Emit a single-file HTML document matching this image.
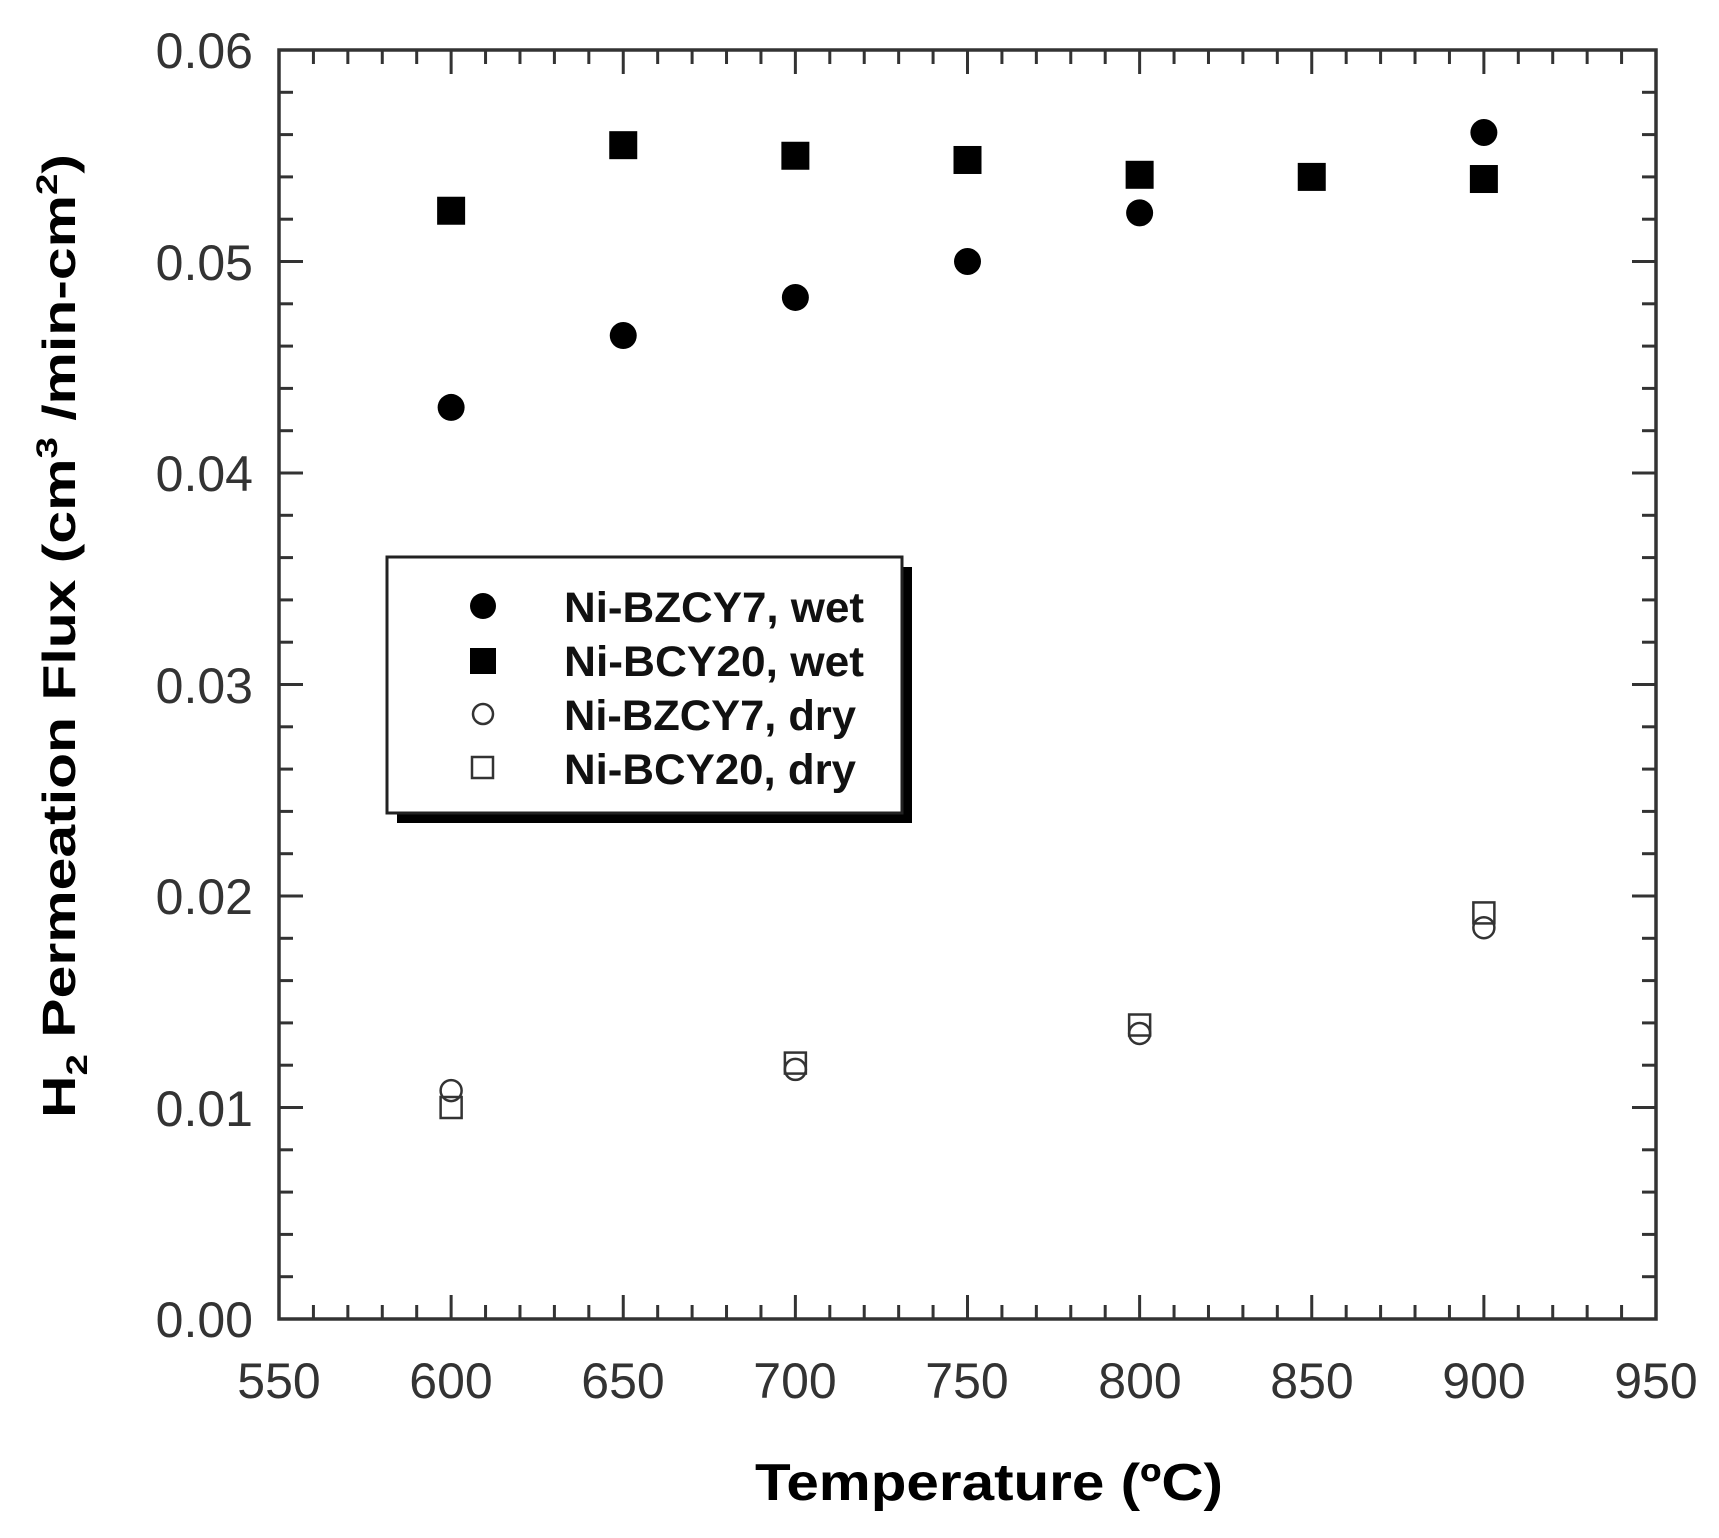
<!DOCTYPE html>
<html><head><meta charset="utf-8"><style>html,body{margin:0;padding:0;background:#fff}svg{display:block}</style></head>
<body>
<svg width="1719" height="1538" viewBox="0 0 1719 1538" xmlns="http://www.w3.org/2000/svg" font-family="'Liberation Sans', Arial, sans-serif">
<rect width="1719" height="1538" fill="#fff"/>
<g id="ticks" stroke="#333" stroke-width="3"></g>
<rect x="279" y="50" width="1377" height="1269" fill="none" stroke="#333" stroke-width="3.5"/>
<g font-size="50" fill="#333" text-anchor="end">
<text x="253" y="1337">0.00</text><text x="253" y="1126">0.01</text><text x="253" y="914">0.02</text>
<text x="253" y="703">0.03</text><text x="253" y="491">0.04</text><text x="253" y="280">0.05</text><text x="253" y="68">0.06</text>
</g>
<g font-size="50" fill="#333" text-anchor="middle">
<text x="279" y="1398">550</text><text x="451" y="1398">600</text><text x="623" y="1398">650</text>
<text x="795" y="1398">700</text><text x="967" y="1398">750</text><text x="1140" y="1398">800</text>
<text x="1312" y="1398">850</text><text x="1484" y="1398">900</text><text x="1656" y="1398">950</text>
</g>
<text x="989" y="1500" font-size="52" font-weight="bold" text-anchor="middle" textLength="468" lengthAdjust="spacingAndGlyphs">Temperature (ºC)</text>
<text transform="translate(75,636) rotate(-90)" font-size="46" font-weight="bold" text-anchor="middle" textLength="964" lengthAdjust="spacingAndGlyphs">H<tspan font-size="30" dy="12">2</tspan><tspan dy="-12"> Permeation Flux (cm</tspan><tspan font-size="30" dy="-18">3</tspan><tspan dy="18"> /min-cm</tspan><tspan font-size="30" dy="-18">2</tspan><tspan dy="18">)</tspan></text>
<g id="pts"></g>
<rect x="397" y="567" width="515" height="256" fill="#000"/>
<rect x="387" y="557" width="515" height="256" fill="#fff" stroke="#222" stroke-width="3"/>
<circle cx="483" cy="606" r="13" fill="#000"/>
<rect x="470" y="648" width="26" height="26" fill="#000"/>
<circle cx="483" cy="714" r="10" fill="none" stroke="#333" stroke-width="2.5"/>
<rect x="472" y="757" width="21" height="21" fill="none" stroke="#333" stroke-width="2.5"/>
<g font-size="43" font-weight="bold" fill="#111">
<text x="564" y="622" textLength="300" lengthAdjust="spacingAndGlyphs">Ni-BZCY7, wet</text>
<text x="564" y="676" textLength="300" lengthAdjust="spacingAndGlyphs">Ni-BCY20, wet</text>
<text x="564" y="730" textLength="292" lengthAdjust="spacingAndGlyphs">Ni-BZCY7, dry</text>
<text x="564" y="784" textLength="292" lengthAdjust="spacingAndGlyphs">Ni-BCY20, dry</text>
</g>
<script>
(function(){
var ns="http://www.w3.org/2000/svg",t=document.getElementById("ticks"),p=document.getElementById("pts");
function L(x1,y1,x2,y2){var l=document.createElementNS(ns,"line");l.setAttribute("x1",x1);l.setAttribute("y1",y1);l.setAttribute("x2",x2);l.setAttribute("y2",y2);t.appendChild(l);}
var X0=279,XS=172.125/50,Y0=1319,YS=211.5/0.01;
for(var i=0;i<=40;i++){var x=X0+i*1377/40,len=(i%5==0)?24:14;L(x,1319,x,1319-len);L(x,50,x,50+len);}
for(var j=0;j<=30;j++){var y=1319-j*1269/30,len=(j%5==0)?24:14;L(279,y,279+len,y);L(1656,y,1656-len,y);}
function X(v){return X0+(v-550)*XS}function Y(v){return Y0-v*YS}
function C(x,y,r,f){var c=document.createElementNS(ns,"circle");c.setAttribute("cx",X(x));c.setAttribute("cy",Y(y));c.setAttribute("r",r);if(f){c.setAttribute("fill","#000")}else{c.setAttribute("fill","none");c.setAttribute("stroke","#333");c.setAttribute("stroke-width","2.5")}p.appendChild(c);}
function S(x,y,s,f){var r=document.createElementNS(ns,"rect");r.setAttribute("x",X(x)-s/2);r.setAttribute("y",Y(y)-s/2);r.setAttribute("width",s);r.setAttribute("height",s);if(f){r.setAttribute("fill","#000")}else{r.setAttribute("fill","none");r.setAttribute("stroke","#333");r.setAttribute("stroke-width","2.5")}p.appendChild(r);}
[[600,.0431],[650,.0465],[700,.0483],[750,.0500],[800,.0523],[900,.0561]].forEach(function(d){C(d[0],d[1],13.5,1)});
[[600,.0524],[650,.0555],[700,.0550],[750,.0548],[800,.0541],[850,.0540],[900,.0539]].forEach(function(d){S(d[0],d[1],28,1)});
[[600,.0100],[700,.0121],[800,.0139],[900,.0192]].forEach(function(d){S(d[0],d[1],21,0)});
[[600,.0108],[700,.0118],[800,.0135],[900,.0185]].forEach(function(d){C(d[0],d[1],10.5,0)});
})();
</script>
</svg>
</body></html>
